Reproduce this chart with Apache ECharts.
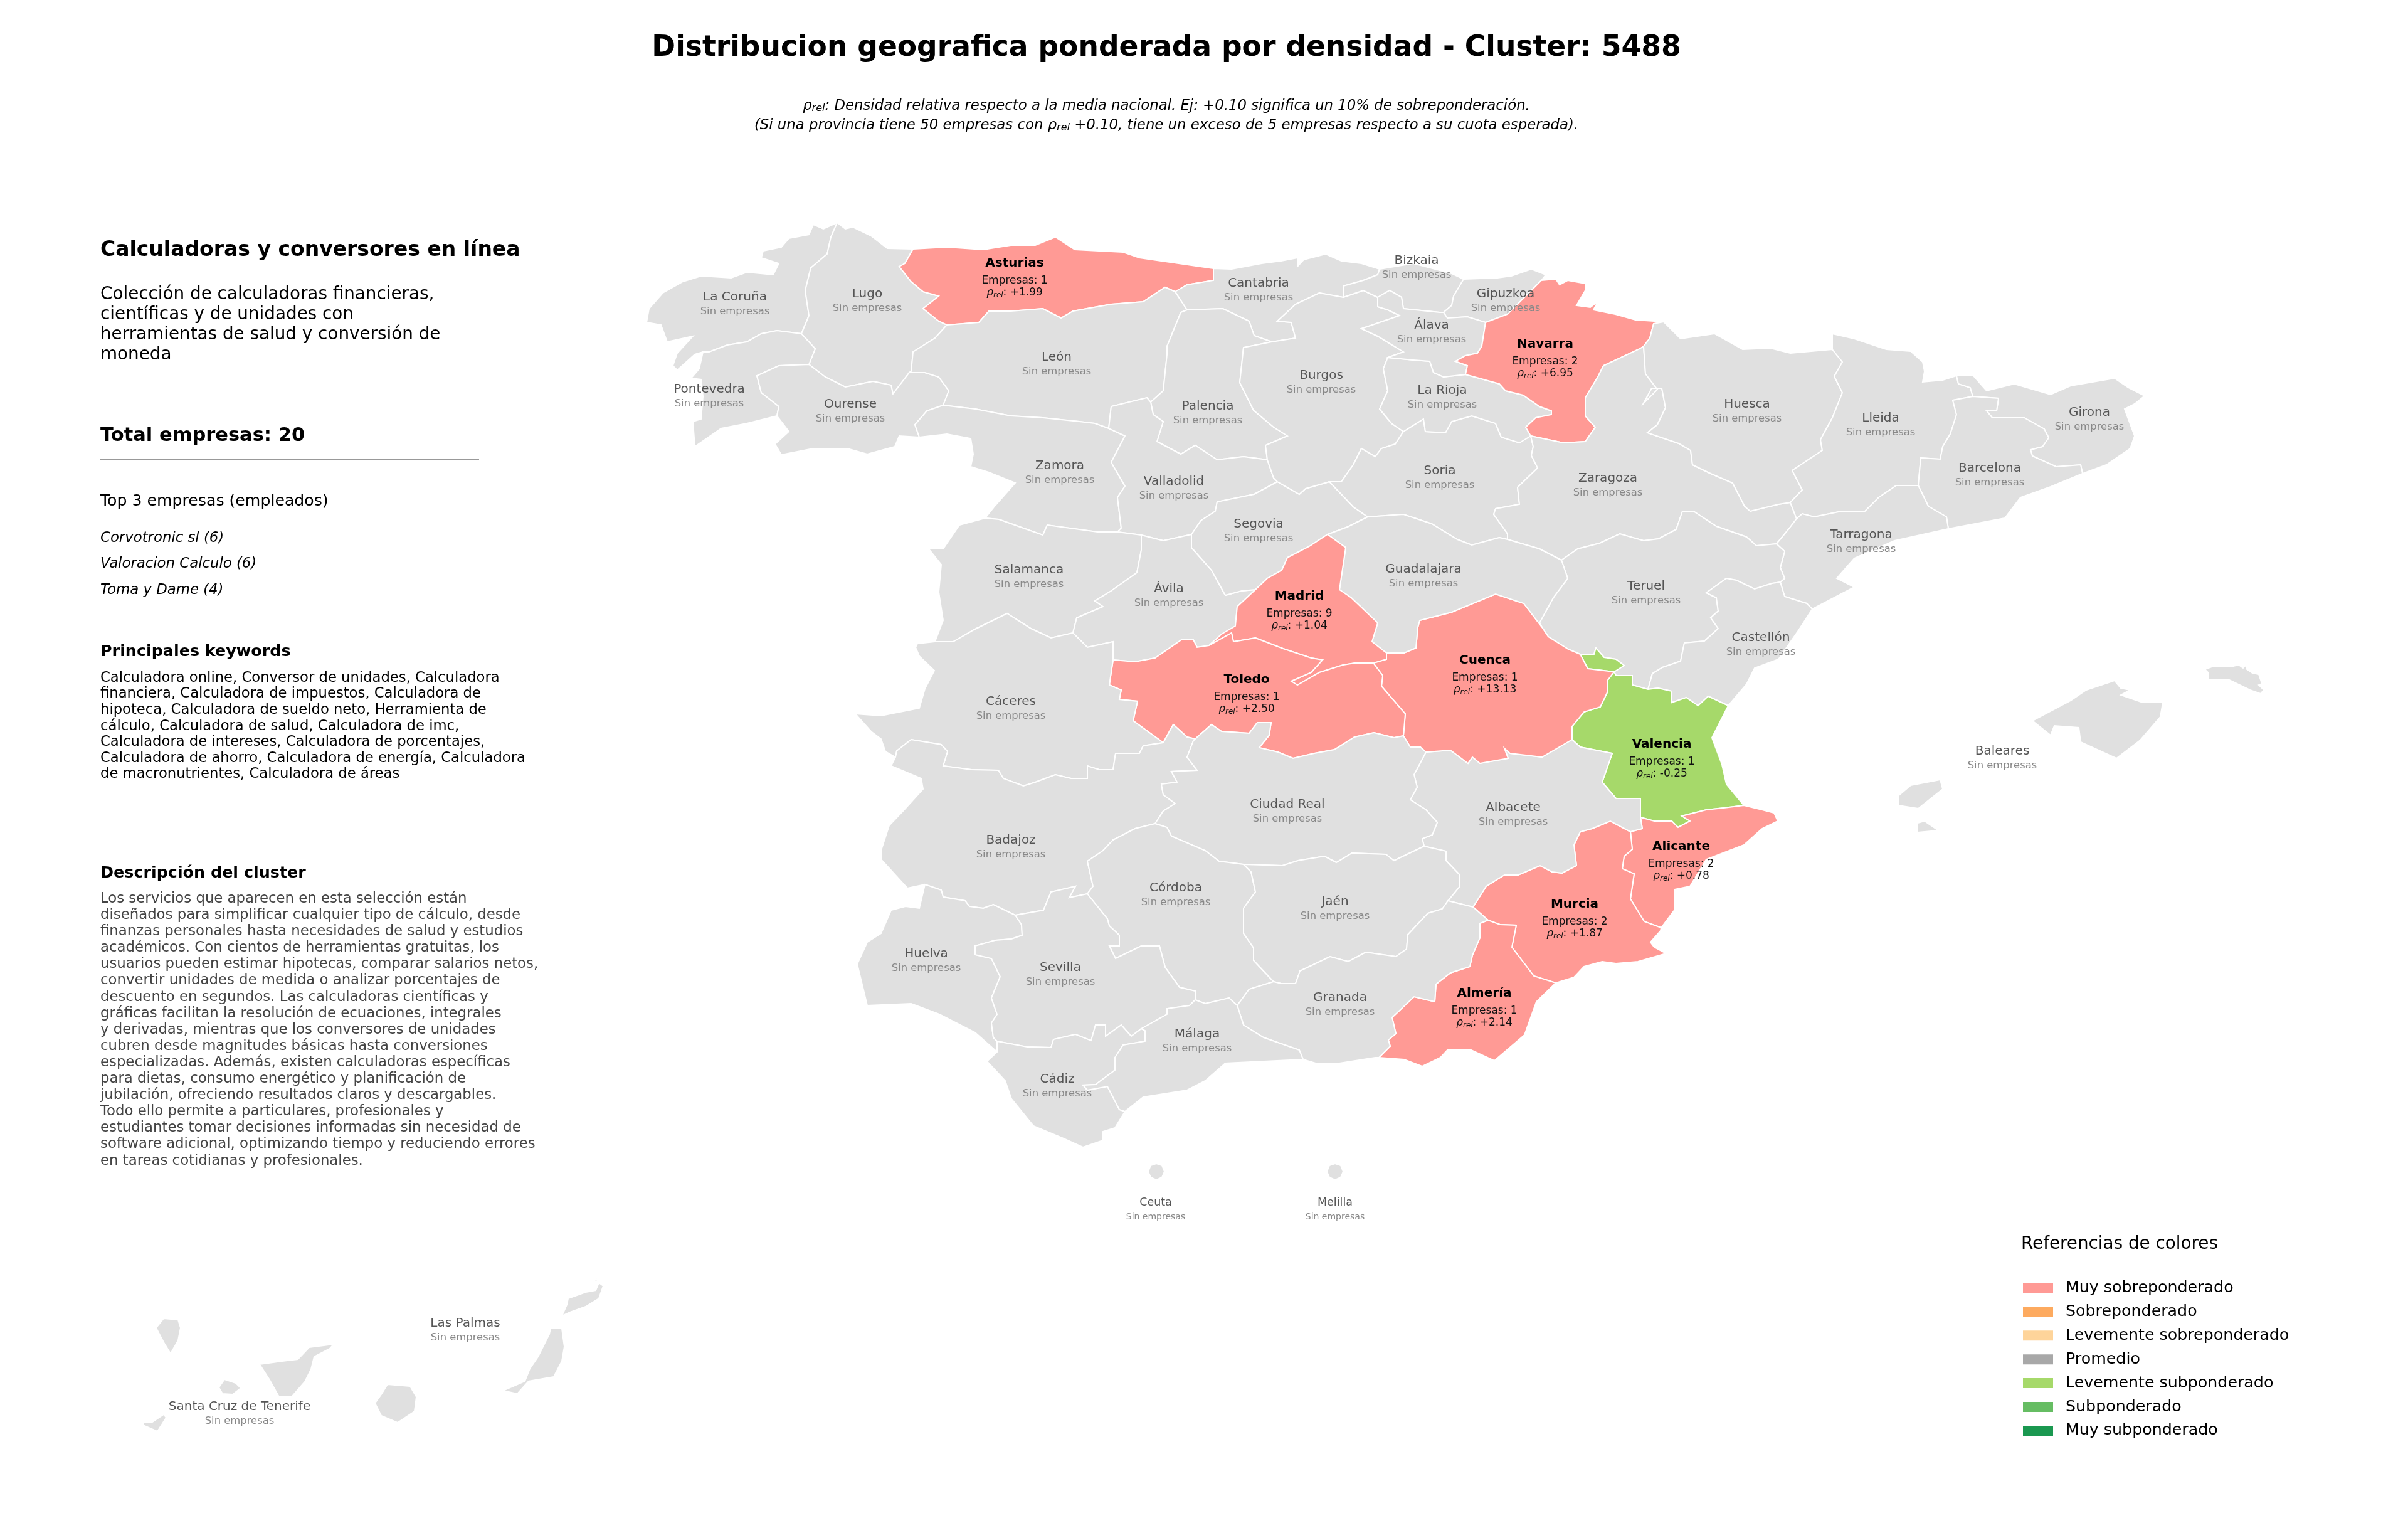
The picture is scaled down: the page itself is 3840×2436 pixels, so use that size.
<!DOCTYPE html>
<html>
<head>
<meta charset="utf-8">
<style>
  html, body { margin: 0; padding: 0; background: #fff; }
  #chart { width: 3840px; height: 2436px; }
</style>
<script src="https://cdn.jsdelivr.net/npm/echarts@6/dist/echarts.min.js"></script>
</head>
<body>
<div id="chart"></div>
<script>
// provinces with companies
const activeNames = ['Asturias', 'Navarra', 'Madrid', 'Toledo', 'Cuenca', 'Valencia', 'Alicante', 'Murcia', 'Almería']
const activeEmpresas = [1, 2, 9, 1, 1, 1, 2, 2, 1]
const activeRho = [1.99, 6.95, 1.04, 2.50, 13.13, -0.25, 0.78, 1.87, 2.14]

const legendTitle = 'Referencias de colores'
const legendLabels = ['Muy sobreponderado', 'Sobreponderado', 'Levemente sobreponderado', 'Promedio', 'Levemente subponderado', 'Subponderado', 'Muy subponderado']
const legendColors = ['#ff9a95', '#fdaa5f', '#fed49a', '#a8a8a8', '#a6d96a', '#66bd63', '#1a9850']
const legendMin = [0.5, 0.25, 0.1, -0.1, -0.3, -0.5, -100]
const legendMax = [100, 0.5, 0.25, 0.1, -0.1, -0.3, -0.5]

const titleText = 'Distribucion geografica ponderada por densidad - Cluster: 5488'
const noteLine1 = ': Densidad relativa respecto a la media nacional. Ej: +0.10 significa un 10% de sobreponderación.'
const noteLine2a = '(Si una provincia tiene 50 empresas con '
const noteLine2b = ' +0.10, tiene un exceso de 5 empresas respecto a su cuota esperada).'

const clusterName = 'Calculadoras y conversores en línea'
const clusterSummary = ['Colección de calculadoras financieras,', 'científicas y de unidades con', 'herramientas de salud y conversión de', 'moneda']
const totalText = 'Total empresas: 20'
const topHeader = 'Top 3 empresas (empleados)'
const topCompanies = ['Corvotronic sl (6)', 'Valoracion Calculo (6)', 'Toma y Dame (4)']
const keywordHeader = 'Principales keywords'
const keywordLines = [
  'Calculadora online, Conversor de unidades, Calculadora',
  'financiera, Calculadora de impuestos, Calculadora de',
  'hipoteca, Calculadora de sueldo neto, Herramienta de',
  'cálculo, Calculadora de salud, Calculadora de imc,',
  'Calculadora de intereses, Calculadora de porcentajes,',
  'Calculadora de ahorro, Calculadora de energía, Calculadora',
  'de macronutrientes, Calculadora de áreas'
]
const descHeader = 'Descripción del cluster'
const descLines = [
  'Los servicios que aparecen en esta selección están',
  'diseñados para simplificar cualquier tipo de cálculo, desde',
  'finanzas personales hasta necesidades de salud y estudios',
  'académicos. Con cientos de herramientas gratuitas, los',
  'usuarios pueden estimar hipotecas, comparar salarios netos,',
  'convertir unidades de medida o analizar porcentajes de',
  'descuento en segundos. Las calculadoras científicas y',
  'gráficas facilitan la resolución de ecuaciones, integrales',
  'y derivadas, mientras que los conversores de unidades',
  'cubren desde magnitudes básicas hasta conversiones',
  'especializadas. Además, existen calculadoras específicas',
  'para dietas, consumo energético y planificación de',
  'jubilación, ofreciendo resultados claros y descargables.',
  'Todo ello permite a particulares, profesionales y',
  'estudiantes tomar decisiones informadas sin necesidad de',
  'software adicional, optimizando tiempo y reduciendo errores',
  'en tareas cotidianas y profesionales.'
]

// base map: shared province borders, in map units (x, y down)
const arcs = {
  corCoast: [[1335,355],[1313,365],[1297,358],[1290,374],[1258,380],[1246,394],[1217,400],[1214,411],[1242,420],[1233,438],[1191,434],[1166,443],[1118,440],[1089,449],[1057,467],[1035,492],[1031,514],[1054,518],[1064,545],[1105,536],[1080,563],[1073,583],[1080,590],[1108,565],[1121,561]],
  corPon: [[1121,561],[1131,561],[1160,550],[1191,545],[1214,532],[1239,527],[1278,532]],
  corLug: [[1335,355],[1325,378],[1319,405],[1293,427],[1284,463],[1290,503],[1278,532]],
  lugCoast: [[1335,355],[1348,365],[1360,362],[1389,376],[1415,396],[1456,397]],
  lugAst: [[1456,397],[1443,420],[1434,425],[1453,449],[1472,465],[1497,472],[1472,492],[1497,512],[1510,518]],
  astCoast: [[1456,397],[1510,394],[1568,398],[1612,391],[1651,391],[1683,378],[1714,398],[1791,402],[1817,411],[1935,428]],
  astCan: [[1935,428],[1935,447],[1893,454],[1874,465]],
  astLeo: [[1510,518],[1561,514],[1577,496],[1612,496],[1663,492],[1692,507],[1711,496],[1772,485],[1823,481],[1858,458],[1874,465]],
  lugLeo: [[1510,518],[1491,539],[1456,561],[1453,592],[1450,594]],
  lugPon: [[1278,532],[1300,556],[1290,581]],
  lugOur: [[1290,581],[1316,601],[1348,617],[1392,608],[1421,614],[1424,628],[1450,594]],
  ponOur: [[1290,581],[1242,583],[1207,599],[1214,626],[1242,648],[1239,663]],
  ponCoast: [[1121,561],[1115,588],[1102,603],[1118,605],[1121,632],[1118,668],[1105,672],[1108,712],[1150,683],[1191,675],[1239,663]],
  ourSouth: [[1239,663],[1258,688],[1236,708],[1246,725],[1297,715],[1351,715],[1383,724],[1427,712],[1434,695],[1466,697]],
  ourZam: [[1466,697],[1459,677],[1478,655],[1504,646]],
  ourLeo: [[1450,594],[1475,594],[1497,601],[1513,623],[1504,646]],
  leoZam: [[1504,646],[1555,652],[1612,663],[1663,666],[1721,672],[1746,675],[1768,683]],
  leoVal: [[1768,683],[1772,648],[1829,634],[1835,641]],
  leoPal: [[1835,641],[1855,623],[1861,565],[1861,552],[1883,498],[1893,494]],
  canLeo: [[1874,465],[1893,494]],
  palCan: [[1893,494],[1950,492],[1992,512],[2000,535],[2028,545]],
  palBur: [[2028,545],[1983,554],[1977,610],[1999,654],[2031,681],[2053,695],[2018,710],[2021,733]],
  palVal: [[1835,641],[1839,661],[1855,672],[1845,704],[1883,724],[1906,710],[1941,733],[1983,728],[2021,733]],
  valBur: [[2021,733],[2031,762],[2037,768]],
  valSeg: [[2037,768],[2000,788],[1941,800],[1938,815],[1915,830],[1900,852]],
  valAvi: [[1900,852],[1855,862],[1820,853]],
  zamVal: [[1768,683],[1794,695],[1785,712],[1772,737],[1794,775],[1782,793],[1788,842],[1782,848]],
  valSal: [[1782,848],[1820,853]],
  zamPor: [[1466,697],[1510,692],[1548,699],[1552,724],[1548,744],[1577,753],[1619,770],[1587,806],[1571,826]],
  zamSal: [[1571,826],[1593,828],[1632,842],[1663,853],[1670,837],[1750,848],[1782,848]],
  salPor: [[1571,826],[1530,837],[1504,875],[1481,875],[1501,900],[1497,944],[1504,989],[1491,1023]],
  salCac: [[1491,1023],[1520,1023],[1555,1003],[1606,978],[1644,1002],[1676,1017],[1711,1009]],
  salAvi: [[1820,853],[1820,877],[1813,913],[1772,942],[1746,958],[1759,967],[1717,985],[1711,1009]],
  aviSeg: [[1900,852],[1900,873],[1932,909],[1954,949],[1980,942],[2002,940]],
  aviMad: [[2002,940],[1973,967],[1970,998],[1948,1011],[1928,1029]],
  segMad: [[2002,940],[2021,922],[2044,909],[2053,889],[2088,871],[2117,852]],
  madGua: [[2117,852],[2146,873],[2136,940],[2155,953],[2197,993],[2188,1023],[2211,1041]],
  madCue: [[2211,1041],[2211,1051],[2190,1057]],
  madTol: [[1928,1029],[1964,1009],[1967,1023],[2002,1017],[2046,1034],[2091,1049],[2109,1052],[2091,1072],[2059,1086],[2069,1092],[2104,1072],[2142,1060],[2161,1057],[2190,1057]],
  aviTol: [[1775,1052],[1810,1055],[1842,1049],[1884,1020],[1903,1020],[1909,1032],[1928,1029]],
  aviCac: [[1711,1009],[1734,1032],[1775,1023],[1775,1052]],
  cacTol: [[1775,1052],[1769,1092],[1788,1100],[1785,1115],[1814,1118],[1807,1149],[1855,1184]],
  cacWest: [[1491,1023],[1463,1026],[1460,1032],[1466,1046],[1490,1069],[1475,1098],[1466,1129],[1405,1141],[1364,1138],[1389,1166],[1405,1178],[1412,1198],[1428,1207]],
  cacBad: [[1855,1184],[1823,1189],[1817,1201],[1779,1201],[1775,1227],[1753,1227],[1734,1221],[1734,1241],[1708,1241],[1683,1235],[1651,1247],[1632,1253],[1600,1241],[1592,1228],[1549,1227],[1504,1221],[1511,1198],[1501,1187],[1453,1179],[1430,1197],[1428,1207]],
  badTol: [[1855,1184],[1871,1155],[1893,1175],[1906,1178]],
  crBad: [[1842,1313],[1855,1293],[1874,1281],[1855,1267],[1852,1250],[1877,1247],[1868,1230],[1909,1228],[1893,1207],[1903,1181],[1906,1178]],
  tolCr: [[1906,1178],[1932,1155],[1948,1166],[1992,1169],[2005,1152],[2027,1152],[2024,1172],[2008,1192],[2038,1199],[2062,1209],[2096,1201],[2128,1195],[2160,1175],[2191,1168],[2223,1176],[2238,1173]],
  tolCue: [[2190,1057],[2205,1077],[2203,1094],[2241,1138],[2238,1173]],
  cueCr: [[2238,1173],[2249,1191],[2265,1191],[2274,1199]],
  cueAlb: [[2274,1199],[2313,1196],[2341,1217],[2348,1207],[2360,1217],[2405,1209],[2399,1193],[2408,1201],[2459,1207],[2507,1179]],
  guaCue: [[2211,1041],[2239,1041],[2258,1033],[2261,1000],[2264,989],[2315,976],[2385,947],[2430,962],[2459,1000]],
  terGua: [[2490,893],[2500,922],[2477,953],[2455,993],[2459,1000]],
  cueTer: [[2459,1000],[2469,1015],[2501,1035],[2520,1043]],
  ademBot: [[2520,1043],[2532,1066],[2574,1071]],
  ademTop: [[2520,1043],[2542,1043],[2545,1033],[2558,1048],[2577,1051],[2590,1061],[2574,1071]],
  cueVal: [[2574,1071],[2564,1084],[2564,1102],[2552,1127],[2526,1135],[2507,1158],[2507,1179]],
  terVal: [[2574,1071],[2577,1077],[2603,1077],[2603,1092],[2628,1099]],
  valCas: [[2756,1125],[2724,1110],[2708,1125],[2689,1112],[2666,1120],[2666,1102],[2644,1097],[2628,1099]],
  terCas: [[2628,1099],[2635,1074],[2651,1064],[2680,1054],[2686,1025],[2718,1022],[2740,1002],[2728,985],[2740,974],[2737,953],[2721,945],[2753,922],[2769,925],[2798,939],[2826,930],[2839,928]],
  casTar: [[2839,928],[2846,951],[2881,962],[2890,971]],
  casCoast: [[2890,971],[2868,1005],[2836,1051],[2798,1065],[2785,1091],[2756,1125]],
  valCoast: [[2756,1125],[2730,1176],[2746,1219],[2753,1250],[2781,1284]],
  aliVal: [[2616,1303],[2638,1309],[2666,1309],[2676,1319],[2695,1309],[2682,1301],[2721,1291],[2749,1288],[2781,1284]],
  aliCoast: [[2781,1284],[2810,1291],[2829,1296],[2835,1309],[2810,1321],[2781,1347],[2721,1370],[2695,1413],[2670,1418],[2670,1451],[2649,1479]],
  murAli: [[2649,1479],[2622,1469],[2600,1433],[2606,1393],[2587,1385],[2590,1365],[2603,1354],[2600,1326]],
  albAli: [[2600,1326],[2619,1321],[2616,1303]],
  albVal: [[2507,1179],[2520,1191],[2571,1201],[2555,1247],[2577,1273],[2616,1273],[2616,1303]],
  murAlb: [[2600,1326],[2568,1309],[2539,1321],[2520,1326],[2510,1347],[2514,1380],[2491,1392],[2475,1390],[2456,1380],[2421,1395],[2399,1395],[2370,1413],[2349,1446]],
  graMur: [[2349,1446],[2373,1467]],
  graAlm: [[2373,1467],[2360,1472],[2360,1495],[2348,1523],[2344,1541],[2313,1551],[2290,1569],[2288,1597],[2255,1589],[2220,1622],[2226,1648],[2214,1658],[2217,1668],[2199,1686]],
  almMur: [[2373,1467],[2392,1474],[2418,1475],[2411,1510],[2446,1556],[2481,1567]],
  almCoast: [[2199,1686],[2239,1689],[2268,1700],[2297,1686],[2309,1673],[2344,1673],[2383,1691],[2431,1650],[2450,1597],[2481,1567]],
  murCoast: [[2481,1567],[2510,1558],[2526,1541],[2555,1533],[2577,1536],[2612,1533],[2657,1520],[2638,1510],[2632,1502],[2648,1484],[2649,1479]],
  albGra: [[2309,1436],[2349,1446]],
  jaeAlb: [[2271,1349],[2306,1357],[2306,1372],[2328,1395],[2328,1413],[2309,1436]],
  jaeGra: [[2031,1565],[2043,1568],[2066,1568],[2073,1548],[2121,1525],[2150,1533],[2178,1518],[2226,1525],[2243,1513],[2245,1490],[2277,1456],[2300,1449],[2309,1436]],
  crAlb: [[2274,1199],[2255,1235],[2260,1255],[2249,1275],[2274,1291],[2292,1311],[2284,1331],[2268,1337],[2271,1349]],
  crJae: [[2271,1349],[2223,1372],[2210,1362],[2156,1360],[2131,1375],[2112,1365],[2070,1372],[2045,1380],[1983,1378]],
  crCor: [[1983,1378],[1944,1373],[1922,1356],[1868,1333],[1861,1319],[1842,1313]],
  corJae: [[1983,1378],[1995,1390],[2002,1422],[1983,1448],[1983,1488],[1999,1511],[1999,1531],[2031,1565]],
  corGra: [[1973,1603],[1992,1577],[2031,1565]],
  corMal: [[1906,1594],[1922,1600],[1960,1591],[1973,1603]],
  sevCor: [[1734,1425],[1766,1465],[1769,1476],[1785,1491],[1785,1508],[1769,1508],[1779,1528],[1820,1508],[1849,1508],[1858,1542],[1881,1574],[1906,1580],[1906,1594]],
  sevMal: [[1820,1640],[1861,1617],[1861,1608],[1897,1603],[1906,1594]],
  sevCad: [[1590,1660],[1638,1669],[1676,1670],[1680,1657],[1715,1649],[1740,1659],[1747,1634],[1763,1634],[1763,1652],[1788,1634],[1804,1652],[1820,1640]],
  badCor: [[1734,1425],[1743,1413],[1734,1373],[1759,1356],[1775,1339],[1810,1321],[1842,1313]],
  badSev: [[1619,1459],[1664,1451],[1676,1422],[1715,1413],[1705,1431],[1734,1425]],
  badHue: [[1475,1410],[1501,1419],[1504,1430],[1539,1436],[1546,1445],[1568,1448],[1584,1442],[1619,1459]],
  badWest: [[1428,1207],[1421,1221],[1469,1241],[1472,1258],[1440,1293],[1418,1316],[1405,1356],[1405,1370],[1447,1416],[1475,1410]],
  hueSev: [[1619,1459],[1629,1474],[1630,1491],[1613,1497],[1587,1499],[1555,1508],[1555,1522],[1581,1528],[1595,1557],[1581,1591],[1590,1617],[1581,1631],[1584,1654],[1590,1660]],
  hueCoast: [[1475,1410],[1466,1448],[1444,1445],[1421,1451],[1405,1488],[1383,1502],[1367,1537],[1383,1603],[1453,1600],[1498,1617],[1555,1646],[1590,1677]],
  hueCad: [[1590,1660],[1590,1677]],
  cadCoast: [[1590,1677],[1574,1692],[1603,1723],[1613,1752],[1648,1795],[1696,1815],[1727,1829],[1759,1818],[1759,1804],[1778,1798],[1794,1772]],
  cadMal: [[1820,1640],[1826,1643],[1826,1660],[1791,1666],[1778,1686],[1778,1706],[1747,1729],[1727,1730],[1734,1738],[1766,1732],[1785,1769],[1794,1772]],
  malCoast: [[1794,1772],[1823,1749],[1893,1738],[1922,1723],[1954,1695],[2078,1689]],
  malGra: [[1973,1603],[1983,1634],[2015,1654],[2072,1674],[2078,1689]],
  graCoast: [[2078,1689],[2098,1695],[2136,1695],[2193,1686],[2199,1686]],
  burSeg: [[2037,768],[2072,788],[2082,779],[2120,768]],
  segSor: [[2120,768],[2158,808],[2181,824]],
  segGua: [[2117,852],[2149,840],[2181,824]],
  guaSor: [[2181,824],[2238,820],[2283,835],[2324,860],[2347,869],[2391,857],[2404,860]],
  zarGua: [[2490,893],[2455,875],[2404,860]],
  zarSor: [[2404,860],[2404,851],[2382,820],[2385,811],[2423,804],[2420,777],[2452,746],[2442,726],[2445,712],[2441,695]],
  burSor: [[2120,768],[2139,768],[2158,741],[2171,715],[2193,728],[2203,715],[2225,708],[2238,688]],
  sorRio: [[2238,688],[2270,668],[2273,688],[2305,690],[2315,672],[2347,663],[2385,675],[2394,697],[2423,706],[2441,695]],
  burRio: [[2238,688],[2219,675],[2200,652],[2213,623],[2206,588],[2213,570]],
  rioAla: [[2213,570],[2254,574],[2280,576],[2286,594],[2302,601],[2337,597]],
  rioNav: [[2337,597],[2391,612],[2401,623],[2429,630],[2455,648],[2474,655],[2474,661],[2449,666],[2433,681],[2441,695]],
  navZar: [[2441,695],[2493,706],[2528,704],[2544,681],[2528,663],[2528,634],[2548,601],[2557,583],[2615,556],[2621,552]],
  navHue: [[2621,552],[2631,539],[2637,516],[2653,513]],
  navNorth: [[2653,513],[2608,510],[2576,501],[2541,494],[2548,481],[2536,490],[2514,487],[2528,463],[2528,452],[2500,447],[2487,454],[2481,445],[2458,447]],
  navGip: [[2458,447],[2433,472],[2404,501],[2369,514]],
  navAla: [[2369,514],[2363,552],[2356,563],[2337,567],[2321,576],[2340,583],[2337,597]],
  gipAla: [[2369,514],[2340,505],[2308,507],[2302,498]],
  gipBiz: [[2302,498],[2315,487],[2318,472],[2334,445]],
  gipCoast: [[2334,445],[2388,443],[2410,440],[2442,429],[2465,438],[2458,447]],
  bizCoast: [[2200,429],[2254,420],[2315,436],[2334,445]],
  canBiz: [[2142,474],[2142,456],[2174,447],[2197,438],[2200,429]],
  canCoast: [[1935,428],[1964,429],[2012,420],[2043,416],[2069,411],[2069,425],[2079,414],[2114,405],[2139,416],[2171,420],[2200,429]],
  canBur: [[2028,545],[2066,539],[2059,514],[2037,512],[2066,485],[2104,467],[2142,474]],
  bizBur: [[2142,474],[2174,463],[2197,474]],
  bizAla: [[2197,474],[2216,463],[2235,474],[2238,492],[2296,498],[2302,498]],
  burAla: [[2197,474],[2197,489],[2213,494],[2232,503],[2206,512],[2171,524],[2197,536],[2238,561],[2213,570]],
  zarHue: [[2855,801],[2836,804],[2791,815],[2782,807],[2763,770],[2728,755],[2699,741],[2696,718],[2677,707],[2627,690],[2643,677],[2656,650],[2650,619],[2634,619],[2621,643],[2643,621],[2624,596],[2621,552]],
  hueNorth: [[2653,513],[2680,540],[2734,532],[2779,557],[2823,555],[2855,563],[2922,557]],
  hueLle: [[2922,557],[2938,577],[2925,600],[2938,626],[2922,666],[2903,701],[2906,718],[2858,750],[2874,781],[2855,801]],
  zarLle: [[2855,801],[2865,827]],
  zarTar: [[2865,827],[2852,844],[2833,867]],
  terTar: [[2833,867],[2846,879],[2839,905],[2846,922],[2839,928]],
  zarTer: [[2833,867],[2801,870],[2785,856],[2737,839],[2702,816],[2683,815],[2673,844],[2645,859],[2621,862],[2583,851],[2551,866],[2516,875],[2490,893]],
  lleNorth: [[2922,557],[2922,532],[2957,540],[3008,557],[3047,560],[3066,577],[3069,592],[3066,609],[3098,606],[3120,599]],
  lleGir: [[3120,599],[3123,612],[3142,618],[3146,632]],
  lleBar: [[3146,632],[3114,638],[3120,661],[3110,692],[3098,712],[3094,732],[3063,730],[3059,774]],
  lleTar: [[3059,774],[3024,774],[2996,793],[2973,816],[2932,816],[2893,824],[2874,819],[2865,827]],
  tarBar: [[3059,774],[3075,807],[3104,824],[3107,843]],
  tarCoast: [[2890,971],[2913,959],[2957,936],[2929,922],[2957,890],[3021,862],[3107,843]],
  barCoast: [[3107,843],[3197,826],[3222,793],[3270,776],[3321,755]],
  girBar: [[3146,632],[3187,635],[3184,655],[3168,655],[3177,666],[3228,666],[3260,684],[3267,698],[3257,712],[3238,717],[3241,727],[3279,744],[3318,741],[3321,755]],
  girCoast: [[3120,599],[3146,598],[3168,623],[3212,612],[3270,629],[3302,615],[3372,603],[3394,618],[3420,631],[3404,644],[3388,652],[3404,695],[3397,715],[3359,741],[3321,755]]
}

const mallorca = [[3241,1149],[3302,1117],[3327,1100],[3372,1085],[3382,1097],[3397,1100],[3382,1108],[3417,1120],[3449,1120],[3445,1143],[3413,1180],[3375,1209],[3318,1183],[3315,1160],[3276,1157],[3270,1172]]
const menorca = [[3516,1067],[3530,1062],[3557,1063],[3570,1060],[3577,1065],[3582,1060],[3583,1067],[3592,1073],[3602,1075],[3607,1090],[3602,1092],[3610,1100],[3605,1106],[3588,1100],[3553,1083],[3522,1083],[3522,1073]]
const ibiza = [[3027,1269],[3047,1252],[3094,1243],[3098,1258],[3059,1289],[3027,1284]]
const formentera = [[3058,1312],[3069,1309],[3091,1324],[3058,1327]]
const laPalma = [[261,2102],[284,2104],[288,2117],[284,2137],[272,2158],[261,2140],[249,2117]]
const tenerife = [[414,2175],[450,2170],[475,2167],[493,2148],[532,2143],[526,2150],[501,2163],[496,2183],[486,2203],[465,2227],[445,2227],[430,2200]]
const gomera = [[358,2199],[376,2205],[384,2213],[371,2223],[355,2222],[349,2212]]
const hierro = [[261,2255],[265,2260],[251,2282],[228,2272],[228,2267],[243,2267]]
const granCanaria = [[618,2207],[654,2210],[664,2227],[661,2250],[634,2268],[608,2257],[598,2237],[608,2223]]
const fuerteventura = [[878,2117],[896,2118],[900,2147],[896,2170],[883,2195],[843,2202],[825,2222],[802,2217],[837,2202],[845,2182],[858,2163],[876,2127]]
const lanzarote = [[955,2045],[962,2050],[955,2070],[934,2083],[909,2092],[896,2098],[904,2080],[906,2070],[934,2060],[950,2057]]
const graciosa = [[950,2037],[953,2042],[948,2043]]
const ceuta = [[1844,1855],[1853,1858],[1857,1868],[1853,1877],[1844,1881],[1835,1877],[1831,1868],[1835,1858]]
const melilla = [[2129,1855],[2138,1858],[2142,1868],[2138,1877],[2129,1881],[2120,1877],[2116,1868],[2120,1858]]

// province -> polygons (arc names, '-' walks the arc backwards) and label point
const provinces = {
  'La Coruña': {arcs: [['corCoast', 'corPon', '-corLug']], at: [1172, 485]},
  'Lugo': {arcs: [['lugCoast', 'lugAst', 'lugLeo', '-lugOur', '-lugPon', '-corLug']], at: [1383, 480]},
  'Pontevedra': {arcs: [['ponCoast', '-ponOur', '-lugPon', '-corPon']], at: [1131, 632]},
  'Ourense': {arcs: [['ourSouth', 'ourZam', '-ourLeo', '-lugOur', 'ponOur']], at: [1356, 656]},
  'Asturias': {arcs: [['astCoast', 'astCan', '-astLeo', '-lugAst']], at: [1618, 439]},
  'León': {arcs: [['astLeo', 'canLeo', '-leoPal', '-leoVal', '-leoZam', '-ourLeo', '-lugLeo']], at: [1685, 581]},
  'Zamora': {arcs: [['leoZam', 'zamVal', '-zamSal', '-zamPor', 'ourZam']], at: [1690, 754]},
  'Cantabria': {arcs: [['canCoast', '-canBiz', '-canBur', '-palCan', '-canLeo', '-astCan']], at: [2007, 463]},
  'Palencia': {arcs: [['palCan', 'palBur', '-palVal', 'leoPal']], at: [1926, 659]},
  'Valladolid': {arcs: [['leoVal', 'palVal', 'valBur', 'valSeg', 'valAvi', '-valSal', '-zamVal']], at: [1872, 779]},
  'Salamanca': {arcs: [['zamSal', 'valSal', 'salAvi', '-salCac', '-salPor']], at: [1641, 920]},
  'Ávila': {arcs: [['-valAvi', 'aviSeg', 'aviMad', '-aviTol', '-aviCac', '-salAvi']], at: [1864, 950]},
  'Segovia': {arcs: [['-valSeg', 'burSeg', 'segSor', '-segGua', '-segMad', '-aviSeg']], at: [2007, 847]},
  'Burgos': {arcs: [['canBur', 'bizBur', 'burAla', '-burRio', '-burSor', '-burSeg', '-valBur', '-palBur']], at: [2107, 610]},
  'Soria': {arcs: [['burSor', 'sorRio', '-zarSor', '-guaSor', '-segSor']], at: [2296, 762]},
  'La Rioja': {arcs: [['burRio', 'rioAla', 'rioNav', '-sorRio']], at: [2300, 634]},
  'Bizkaia': {arcs: [['bizCoast', '-gipBiz', '-bizAla', '-bizBur', 'canBiz']], at: [2259, 427]},
  'Gipuzkoa': {arcs: [['gipCoast', 'navGip', 'gipAla', 'gipBiz']], at: [2401, 480]},
  'Álava': {arcs: [['bizAla', '-gipAla', 'navAla', '-rioAla', '-burAla']], at: [2283, 530]},
  'Navarra': {arcs: [['-navNorth', '-navHue', '-navZar', '-rioNav', '-navAla', '-navGip']], at: [2464, 568]},
  'Zaragoza': {arcs: [['navZar', '-zarHue', 'zarLle', 'zarTar', 'zarTer', 'zarGua', 'zarSor']], at: [2564, 774]},
  'Huesca': {arcs: [['hueNorth', 'hueLle', 'zarHue', 'navHue']], at: [2786, 656]},
  'Lleida': {arcs: [['lleNorth', 'lleGir', 'lleBar', 'lleTar', '-zarLle', '-hueLle']], at: [2999, 678]},
  'Girona': {arcs: [['girCoast', '-girBar', '-lleGir']], at: [3332, 669]},
  'Barcelona': {arcs: [['girBar', '-barCoast', '-tarBar', '-lleBar']], at: [3173, 758]},
  'Tarragona': {arcs: [['-lleTar', 'tarBar', '-tarCoast', '-casTar', '-terTar', '-zarTar']], at: [2968, 864]},
  'Teruel': {arcs: [['-zarTer', 'terTar', '-terCas', '-terVal', '-ademTop', '-cueTer', '-terGua']], at: [2625, 946]},
  'Castellón': {arcs: [['terCas', 'casTar', 'casCoast', 'valCas']], at: [2808, 1028]},
  'Valencia': {arcs: [['terVal', '-valCas', 'valCoast', '-aliVal', '-albVal', '-cueVal'], ['ademTop', '-ademBot']], at: [2650, 1206]},
  'Alicante': {arcs: [['aliVal', 'aliCoast', 'murAli', 'albAli']], at: [2681, 1369]},
  'Murcia': {arcs: [['murCoast', 'murAli', 'murAlb', 'graMur', 'almMur']], at: [2511, 1461]},
  'Almería': {arcs: [['almMur', '-almCoast', '-graAlm']], at: [2367, 1603]},
  'Albacete': {arcs: [['cueAlb', 'albVal', '-albAli', 'murAlb', '-albGra', '-jaeAlb', '-crAlb']], at: [2413, 1299]},
  'Cuenca': {arcs: [['guaCue', 'cueTer', 'ademBot', 'cueVal', '-cueAlb', '-cueCr', '-tolCue', '-madCue']], at: [2368, 1072]},
  'Guadalajara': {arcs: [['-zarGua', 'terGua', '-guaCue', '-madGua', 'segGua', 'guaSor']], at: [2270, 919]},
  'Madrid': {arcs: [['segMad', 'madGua', 'madCue', '-madTol', '-aviMad']], at: [2072, 970]},
  'Toledo': {arcs: [['aviTol', 'madTol', 'tolCue', '-tolCr', '-badTol', '-cacTol']], at: [1988, 1103]},
  'Cáceres': {arcs: [['salCac', 'aviCac', 'cacTol', 'cacBad', '-cacWest']], at: [1612, 1130]},
  'Badajoz': {arcs: [['-cacBad', 'badTol', '-crBad', '-badCor', '-badSev', '-badHue', '-badWest']], at: [1612, 1351]},
  'Ciudad Real': {arcs: [['crBad', 'tolCr', 'cueCr', 'crAlb', 'crJae', 'crCor']], at: [2053, 1294]},
  'Córdoba': {arcs: [['-crCor', 'corJae', '-corGra', '-corMal', '-sevCor', 'badCor']], at: [1875, 1427]},
  'Jaén': {arcs: [['-crJae', 'jaeAlb', '-jaeGra', '-corJae']], at: [2129, 1449]},
  'Granada': {arcs: [['jaeGra', 'albGra', 'graMur', 'graAlm', '-graCoast', '-malGra', 'corGra']], at: [2137, 1602]},
  'Huelva': {arcs: [['badHue', 'hueSev', 'hueCad', '-hueCoast']], at: [1477, 1532]},
  'Sevilla': {arcs: [['badSev', 'sevCor', '-sevMal', '-sevCad', '-hueSev']], at: [1691, 1554]},
  'Cádiz': {arcs: [['sevCad', 'cadMal', '-cadCoast', '-hueCad']], at: [1686, 1732]},
  'Málaga': {arcs: [['sevMal', 'corMal', 'malGra', '-malCoast', '-cadMal']], at: [1909, 1660]},
  'Baleares': {rings: [mallorca, menorca, ibiza, formentera], at: [3193, 1209]},
  'Santa Cruz de Tenerife': {rings: [laPalma, tenerife, gomera, hierro], at: [382, 2254]},
  'Las Palmas': {rings: [granCanaria, fuerteventura, lanzarote, graciosa], at: [742, 2121]},
  'Ceuta': {rings: [ceuta], at: [1843, 1929]},
  'Melilla': {rings: [melilla], at: [2129, 1929]}
}

const W = 3840
const H = 2436
const FONT = '"DejaVu Sans"'

function ringFromArcs(names) {
  const ring = []
  names.forEach(n => {
    const back = n[0] === '-'
    const pts = arcs[back ? n.slice(1) : n]
    ring.push(...(back ? pts.slice().reverse() : pts))
  })
  ring.push(ring[0])
  return ring
}

function toMap(ring) {
  return ring.map(p => [p[0], H - p[1]])
}

const features = Object.keys(provinces).map(name => {
  const p = provinces[name]
  const rings = p.rings ? p.rings.map(r => r.concat([r[0]])) : p.arcs.map(ringFromArcs)
  return {
    type: 'Feature',
    properties: {name: name, cp: [p.at[0], H - p.at[1]]},
    geometry: {type: 'MultiPolygon', coordinates: rings.map(r => [toMap(r)])}
  }
})
echarts.registerMap('spain', {type: 'FeatureCollection', features: features})

const seriesData = Object.keys(provinces).map(name => {
  const i = activeNames.indexOf(name)
  return i < 0 ? {name: name, value: NaN} : {name: name, value: activeRho[i], empresas: activeEmpresas[i]}
})

function labelText(params) {
  const d = params.data
  if (d.empresas === undefined) {
    const small = d.name === 'Ceuta' || d.name === 'Melilla'
    return small ? `{smallName|${d.name}}\n{smallSub|Sin empresas}` : `{name|${d.name}}\n{sub|Sin empresas}`
  }
  const v = (d.value > 0 ? '+' : '') + d.value.toFixed(2)
  return `{bold|${d.name}}\n{emp|Empresas: ${d.empresas}}\n{rho|ρ}{rel|rel}{emp|: ${v}}`
}

function textEl(text, x, y, size, extra) {
  return {
    type: 'text',
    x: x,
    y: y,
    silent: true,
    style: Object.assign({text: text, font: `${size}px ${FONT}`, fill: '#000', verticalAlign: 'middle', align: 'left'}, extra)
  }
}

const elements = []
const LEFT = 160
elements.push(textEl(clusterName, LEFT, 399, 33, {font: `bold 33px ${FONT}`}))
clusterSummary.forEach((t, i) => elements.push(textEl(t, LEFT, 470 + i * 32, 27.8)))
elements.push(textEl(totalText, LEFT, 695, 30.5, {font: `bold 30.5px ${FONT}`}))
elements.push({type: 'line', silent: true, shape: {x1: 159, y1: 733, x2: 764, y2: 733}, style: {stroke: '#999', lineWidth: 2}})
elements.push(textEl(topHeader, LEFT, 799, 25.2))
topCompanies.forEach((t, i) => elements.push(textEl(t, LEFT, 858 + i * 41.5, 22.8, {font: `italic 22.8px ${FONT}`})))
elements.push(textEl(keywordHeader, LEFT, 1039, 25.4, {font: `bold 25.4px ${FONT}`}))
keywordLines.forEach((t, i) => elements.push(textEl(t, LEFT, 1081 + i * 25.6, 22.7)))
elements.push(textEl(descHeader, LEFT, 1392, 25.4, {font: `bold 25.4px ${FONT}`}))
descLines.forEach((t, i) => elements.push(textEl(t, LEFT, 1433 + i * 26.1, 22.8, {fill: '#444'})))
elements.push(textEl(legendTitle, 3223, 1984, 27.8))

const noteRich = {
  t: {fontFamily: FONT, fontStyle: 'italic', fontWeight: 'normal', fontSize: 22.8, color: '#000'},
  rho: {fontFamily: FONT, fontStyle: 'italic', fontWeight: 'normal', fontSize: 22.8, color: '#000'},
  rel: {fontFamily: FONT, fontStyle: 'italic', fontWeight: 'normal', fontSize: 16, color: '#000', verticalAlign: 'bottom', padding: [8, 0, 0, 0]}
}

const option = {
  backgroundColor: '#fff',
  animation: false,
  title: [
    {text: titleText, left: 1855, top: 49, textAlign: 'center', textStyle: {fontFamily: FONT, fontWeight: 'bold', fontSize: 45.6, color: '#000'}},
    {text: `{rho|ρ}{rel|rel}{t|${noteLine1}}`, left: 1855, top: 152, textAlign: 'center', textStyle: {rich: noteRich}},
    {text: `{t|${noteLine2a}}{rho|ρ}{rel|rel}{t|${noteLine2b}}`, left: 1855, top: 183, textAlign: 'center', textStyle: {rich: noteRich}}
  ],
  visualMap: {
    type: 'piecewise',
    seriesIndex: 0,
    left: 3226,
    top: 2041,
    padding: 0,
    orient: 'vertical',
    align: 'left',
    itemWidth: 48,
    itemHeight: 16,
    itemGap: 12.9,
    itemSymbol: 'rect',
    textGap: 20,
    hoverLink: false,
    selectedMode: false,
    textStyle: {fontFamily: FONT, fontSize: 25.3, color: '#000'},
    pieces: legendLabels.map((label, i) => ({min: legendMin[i], max: legendMax[i], label: label, color: legendColors[i]}))
  },
  graphic: {elements: elements},
  series: [{
    type: 'map',
    map: 'spain',
    silent: true,
    roam: false,
    aspectScale: 1,
    boundingCoords: [[0, H], [W, 0]],
    left: 0,
    top: 0,
    width: W,
    height: H,
    selectedMode: false,
    emphasis: {disabled: true},
    itemStyle: {areaColor: '#e0e0e0', borderColor: '#fff', borderWidth: 2},
    label: {
      show: true,
      formatter: labelText,
      rich: {
        name: {fontFamily: FONT, fontSize: 20, color: '#555', lineHeight: 23, align: 'center'},
        sub: {fontFamily: FONT, fontSize: 16.4, color: '#888', lineHeight: 23, align: 'center'},
        smallName: {fontFamily: FONT, fontSize: 17.5, color: '#555', lineHeight: 23, align: 'center'},
        smallSub: {fontFamily: FONT, fontSize: 14, color: '#888', lineHeight: 23, align: 'center'},
        bold: {fontFamily: FONT, fontSize: 20, fontWeight: 'bold', color: '#000', lineHeight: 37, align: 'center'},
        emp: {fontFamily: FONT, fontSize: 17, color: '#111', lineHeight: 19},
        rho: {fontFamily: FONT, fontSize: 17, fontStyle: 'italic', color: '#111', lineHeight: 19},
        rel: {fontFamily: FONT, fontSize: 12, fontStyle: 'italic', color: '#111', lineHeight: 19, verticalAlign: 'bottom', padding: [6, 0, 0, 0]}
      }
    },
    data: seriesData
  }]
}

const chart = echarts.init(document.getElementById('chart'), null, {width: W, height: H})
chart.setOption(option)
</script>
</body>
</html>
